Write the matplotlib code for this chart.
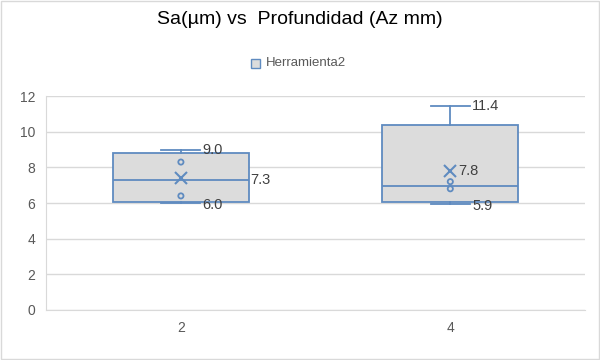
import matplotlib
matplotlib.use("Agg")
import matplotlib.pyplot as plt
from matplotlib.patches import Rectangle

# data (Excel box & whisker)
categories = ["2", "4"]
q1 = [6.05, 6.08]
median = [7.32, 6.93]
q3 = [8.8, 10.38]
whis_lo = [6.0, 5.93]
whis_hi = [8.98, 11.45]
means = [7.4, 7.8]
inner_points = [[8.3, 6.4], [7.2, 6.8]]
series_name = "Herramienta2"

# data labels: (text, value) per box, placement kind
labels_box1 = [("9.0", 8.98, "cap"), ("7.3", 7.32, "box"), ("6.0", 5.9, "cap")]
labels_box2 = [("11.4", 11.45, "cap"), ("7.8", 7.8, "mean"), ("5.9", 5.85, "cap")]

blue = "#5f8bc0"
fill = "#dcdcdc"
grid = "#d9d9d9"
txt = "#595959"

plt.rcParams["font.family"] = ["Liberation Sans", "DejaVu Sans"]

fig = plt.figure(figsize=(6, 3.6), dpi=100)
ax = fig.add_axes([0.077, 0.139, 0.898, 0.594])

stats = []
for i in range(len(categories)):
    stats.append(dict(q1=q1[i], med=median[i], q3=q3[i], whislo=whis_lo[i],
                      whishi=whis_hi[i], mean=means[i], fliers=[], label=categories[i]))

pos = list(range(len(categories)))
box_w = 0.505
cap_w = 0.145
ax.bxp(stats, positions=pos, widths=box_w, capwidths=cap_w, patch_artist=True,
       showmeans=True, meanline=False,
       boxprops=dict(facecolor=fill, edgecolor=blue, linewidth=1.3),
       medianprops=dict(color=blue, linewidth=1.3),
       whiskerprops=dict(color=blue, linewidth=1.3),
       capprops=dict(color=blue, linewidth=1.3),
       meanprops=dict(marker="x", markeredgecolor=blue, markersize=9, markeredgewidth=1.5))

for i, pts in enumerate(inner_points):
    ax.scatter([pos[i]] * len(pts), pts, s=14, facecolors="none", edgecolors=blue,
               linewidths=1.3, zorder=4)

for i, labs in enumerate([labels_box1, labels_box2]):
    for text, val, kind in labs:
        if kind == "cap":
            x = pos[i] + cap_w / 2 + 0.008
        elif kind == "box":
            x = pos[i] + box_w / 2 + 0.005
        else:
            x = pos[i] + 0.03
        ax.text(x, val, text, ha="left", va="center", fontsize=10.5, color="#404040", zorder=5)

ax.set_xlim(-0.5, 1.5)
ax.set_ylim(0, 12)
ax.set_yticks(range(0, 13, 2))
ax.set_xticks(pos)
ax.set_xticklabels(categories)
ax.yaxis.grid(True, color=grid, linewidth=1)
ax.set_axisbelow(True)
for s in ["top", "right"]:
    ax.spines[s].set_visible(False)
ax.spines["left"].set_color(grid)
ax.spines["bottom"].set_color(grid)
ax.tick_params(axis="both", length=0, colors=txt, labelsize=10, pad=8)

fig.text(0.5, 0.945, "Sa(\u00b5m) vs  Profundidad (Az mm)", ha="center", va="center",
         fontsize=14, color="black")

# legend
fig.patches.append(Rectangle((0.418, 0.81), 0.016, 0.027, transform=fig.transFigure,
                             facecolor=fill, edgecolor=blue, linewidth=1))
fig.text(0.443, 0.824, series_name, ha="left", va="center", fontsize=9.5, color=txt)

# chart border
fig.patches.append(Rectangle((0.002, 0.003), 0.996, 0.994, transform=fig.transFigure,
                             facecolor="none", edgecolor=grid, linewidth=1))

fig.savefig("out.png", dpi=100)
